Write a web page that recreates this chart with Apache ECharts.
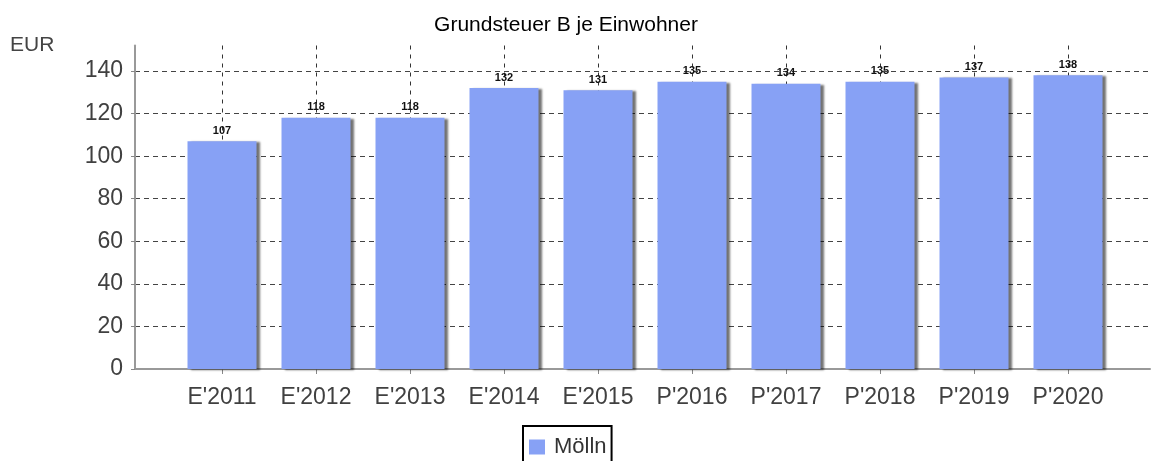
<!DOCTYPE html>
<html>
<head>
<meta charset="utf-8">
<script src="https://cdn.jsdelivr.net/npm/echarts@6/dist/echarts.min.js"></script>
<style>
  html, body { margin: 0; padding: 0; background: #fff; }
  #chart { width: 1152px; height: 461px; }
</style>
</head>
<body>
<div id="chart"></div>
<script>
// Daten
var categories = ["E'2011", "E'2012", "E'2013", "E'2014", "E'2015", "P'2016", "P'2017", "P'2018", "P'2019", "P'2020"];
var valuesMoelln = [107, 118, 118, 132, 131, 135, 134, 135, 137, 138];
var seriesName = "Mölln";
var yMin = 0;
var yMax = 152;
var yStep = 20;

var font = "Liberation Sans, Arial, sans-serif";
var gridTop = 45.5;
var gridBottom = 92;

var chart = echarts.init(document.getElementById("chart"));
chart.setOption({
  animation: false,
  title: {
    text: "Grundsteuer B je Einwohner",
    left: 561,
    top: 10,
    textAlign: "center",
    textStyle: { fontFamily: font, fontSize: 21, fontWeight: "normal", color: "#000" }
  },
  graphic: [{
    type: "text",
    left: 10,
    top: 35,
    style: { text: "EUR", fontFamily: font, fontSize: 21, fill: "#444" }
  }],
  legend: {
    data: [seriesName],
    left: 523,
    top: 426,
    icon: "rect",
    itemWidth: 16,
    itemHeight: 15,
    padding: [10, 5, 20, 6],
    borderColor: "#000",
    borderWidth: 2,
    borderRadius: 0,
    textStyle: { fontFamily: font, fontSize: 22, color: "#333", padding: [0, 0, 0, 4] }
  },
  // grid 0: Hintergrund (Achsenlinien + horizontale Gitterlinien), grid 1: Balken
  grid: [
    { left: 135, right: 2, top: gridTop, bottom: gridBottom },
    { left: 175, right: 37, top: gridTop, bottom: gridBottom }
  ],
  xAxis: [
    {
      type: "value", gridIndex: 0, min: 0, max: 1,
      axisLine: { show: true, onZero: false, lineStyle: { color: "#999", width: 2 } },
      axisTick: { show: false },
      axisLabel: { show: false },
      splitLine: { show: false }
    },
    {
      type: "category", gridIndex: 1, data: categories,
      axisLine: { show: false },
      axisTick: { show: true, alignWithLabel: true, length: 5, lineStyle: { color: "#888" } },
      axisLabel: { fontFamily: font, fontSize: 23, color: "#404040", margin: 17 },
      splitLine: { show: true, alignWithLabel: true, lineStyle: { color: "#333", type: [4, 5], width: 1 } }
    }
  ],
  yAxis: [
    {
      type: "value", gridIndex: 0, min: yMin, max: yMax, interval: yStep,
      axisLine: { show: true, lineStyle: { color: "#999", width: 2 } },
      axisTick: { show: true, length: 4, lineStyle: { color: "#888" } },
      axisLabel: { fontFamily: font, fontSize: 23, color: "#404040", margin: 12, showMaxLabel: false },
      splitLine: { show: true, showMaxLine: false, showMinLine: false, lineStyle: { color: "#444", type: [5, 4], width: 1 } }
    },
    {
      type: "value", gridIndex: 1, min: yMin, max: yMax, interval: yStep,
      show: false,
      splitLine: { show: false }
    }
  ],
  series: [{
    name: seriesName,
    type: "bar",
    xAxisIndex: 1,
    yAxisIndex: 1,
    data: valuesMoelln,
    barWidth: 69,
    itemStyle: {
      color: "#87a1f5",
      shadowColor: "rgba(0,0,0,0.55)",
      shadowOffsetX: 3,
      shadowOffsetY: 1,
      shadowBlur: 2
    },
    label: {
      show: true,
      position: "top",
      distance: 5,
      fontFamily: font,
      fontSize: 11,
      fontWeight: "bold",
      color: "#111"
    }
  }]
});
</script>
</body>
</html>
